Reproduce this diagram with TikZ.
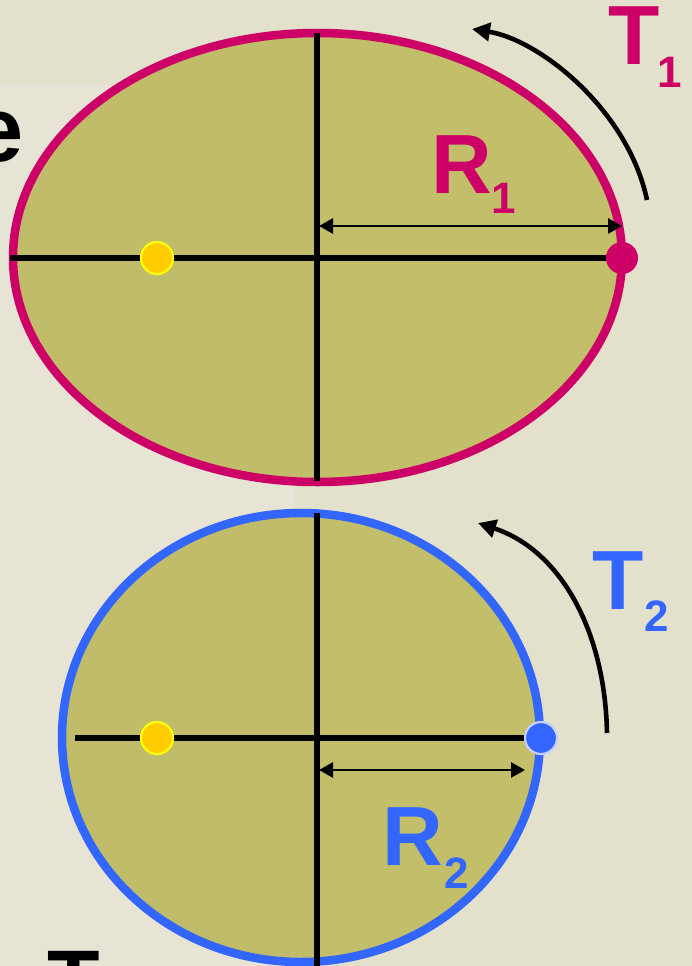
\documentclass[tikz,border=0pt]{standalone}
\usepackage{fontspec}
\setmainfont{Liberation Sans}
\usetikzlibrary{arrows.meta}
\definecolor{bg}{HTML}{E3E0CB}
\definecolor{bgl}{HTML}{E7E4D5}
\definecolor{olive}{HTML}{C2BE6A}
\definecolor{oliveL}{HTML}{C0BC69}
\definecolor{mag}{HTML}{CC0066}
\definecolor{blu}{HTML}{3366FF}
\definecolor{gold}{HTML}{FFCC00}
\definecolor{ylw}{HTML}{FFFF00}
\definecolor{bluring}{HTML}{C8D0FF}
\begin{document}
\begin{tikzpicture}[x=1pt,y=-1pt,
  axisline/.style={line width=5.5pt,black},
  radiusarrow/.style={line width=2.8pt,black,{Triangle[length=14pt,width=15pt]}-{Triangle[length=14pt,width=15pt]}},
  turnarrow/.style={line width=4.6pt,black,-{Triangle[length=18pt,width=18pt]}},
  dotnode/.style={circle,inner sep=0pt,minimum size=32pt,line width=2.2pt},
  lbl/.style={inner sep=0pt,anchor=base west,font=\bfseries}]
\clip (0,0) rectangle (692,966);
\fill[bg] (0,0) rectangle (692,966);
\fill[bgl] (0,85) rectangle (295,966);
% coordinates
\coordinate (c1) at (317.5,257.5);
\coordinate (c2) at (301,737.5);
% ellipse 1
\fill[olive] (c1) ellipse [x radius=304.5, y radius=224.5];
\begin{scope}
  \clip (0,0) rectangle (317,966);
  \fill[oliveL] (c1) ellipse [x radius=304.5, y radius=224.5];
\end{scope}
\draw[mag,line width=8.5pt] (c1) ellipse [x radius=304.5, y radius=224.5];
% ellipse 2
\fill[olive] (c2) ellipse [x radius=239, y radius=224.5];
\begin{scope}
  \clip (0,0) rectangle (317,966);
  \fill[oliveL] (c2) ellipse [x radius=239, y radius=224.5];
\end{scope}
\draw[blu,line width=8.5pt] (c2) ellipse [x radius=239, y radius=224.5];
% axes
\coordinate (h1a) at (10,258);
\coordinate (h1b) at (622,258);
\coordinate (v1a) at (317,33);
\coordinate (v1b) at (317,481);
\draw[axisline] (h1a) -- (h1b);
\draw[axisline] (v1a) -- (v1b);
\coordinate (h2a) at (75,738);
\coordinate (h2b) at (540,738);
\coordinate (v2a) at (317,513);
\coordinate (v2b) at (317,966);
\draw[axisline] (h2a) -- (h2b);
\draw[axisline] (v2a) -- (v2b);
% dots
\node[dotnode,fill=gold,draw=ylw] (sun1) at (157,258) {};
\node[dotnode,fill=mag] (planet1) at (622,258) {};
\node[dotnode,fill=gold,draw=ylw] (sun2) at (157,738) {};
\node[dotnode,fill=blu,draw=bluring] (planet2) at (541,738) {};
% radius arrows
\coordinate (r1a) at (319,226);
\coordinate (r1b) at (622,226);
\draw[radiusarrow] (r1a) -- (r1b);
\coordinate (r2a) at (319,770);
\coordinate (r2b) at (525,770);
\draw[radiusarrow] (r2a) -- (r2b);
% turning arrows
\coordinate (t1a) at (647,200);
\coordinate (t1b) at (472,29);
\draw[turnarrow] (t1a) .. controls (628,110) and (540,40) .. (t1b);
\coordinate (t2a) at (607,733);
\coordinate (t2b) at (478,523);
\draw[turnarrow] (t2a) .. controls (605,630) and (560,550) .. (t2b);
% labels
\node[lbl,text=mag] (R1) at (431,193) {\fontsize{84}{84}\selectfont R\raisebox{-20pt}{\fontsize{44}{44}\selectfont 1}};
\node[lbl,text=mag] (T1) at (608,65) {\fontsize{84}{84}\selectfont T\kern-2pt\raisebox{-22pt}{\fontsize{44}{44}\selectfont 1}};
\node[lbl,text=blu] (R2) at (382,865) {\fontsize{84}{84}\selectfont R\kern2pt\raisebox{-23pt}{\fontsize{44}{44}\selectfont 2}};
\node[lbl,text=blu] (T2) at (592,609) {\fontsize{84}{84}\selectfont T\kern1pt\raisebox{-22pt}{\fontsize{44}{44}\selectfont 2}};
\node[lbl,text=black] (etxt) at (-28,161) {\fontsize{92}{92}\selectfont e};
\node[lbl,text=black] (Ttxt) at (47,1010) {\fontsize{86}{86}\selectfont T};
\end{tikzpicture}
\end{document}
